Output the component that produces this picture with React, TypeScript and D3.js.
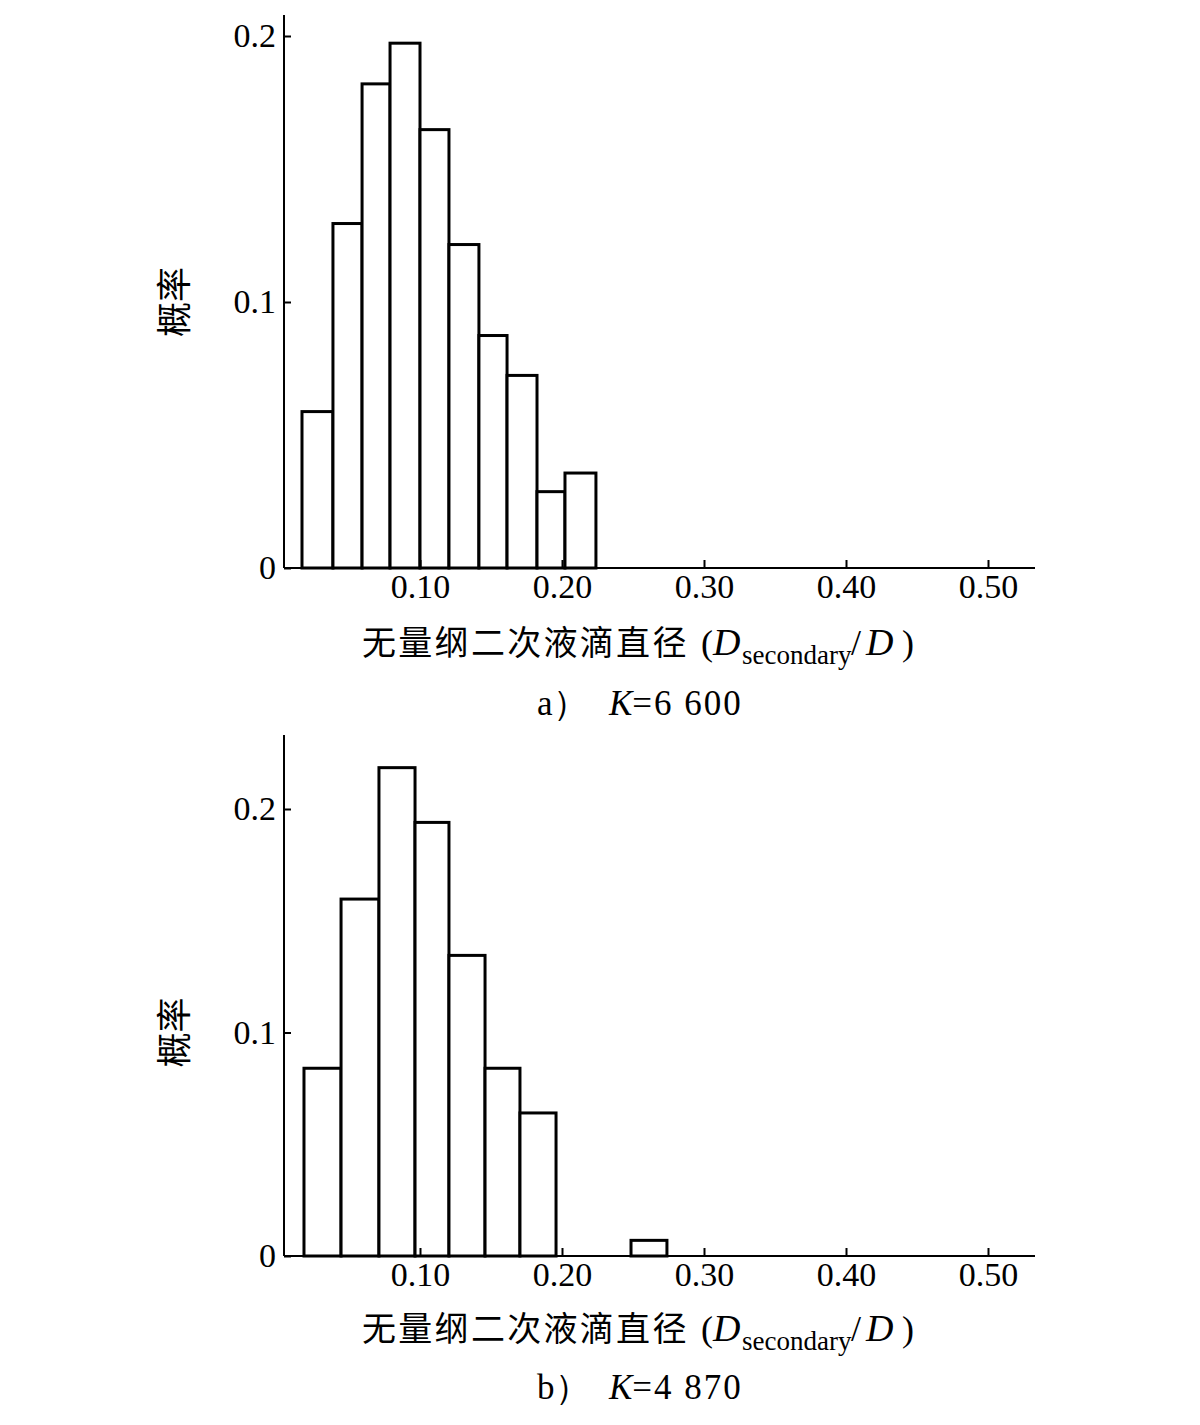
import React, { useEffect, useRef } from 'react';
import * as d3 from 'd3';

// panel a) K=6 600 : bin edges (D_secondary/D) and probability per bin
const edgesA = [0.0169, 0.0387, 0.0592, 0.0789, 0.1, 0.1204, 0.1415, 0.1613, 0.1824, 0.2021, 0.2239];
const probA = [0.0588, 0.1295, 0.182, 0.1973, 0.1648, 0.1216, 0.0874, 0.0724, 0.0287, 0.0357];

// panel b) K=4 870 : lower / upper bin edges and probability
const binLoB = [0.0183, 0.0444, 0.0711, 0.0965, 0.1204, 0.1458, 0.1704, 0.2486];
const binHiB = [0.0444, 0.0711, 0.0965, 0.1204, 0.1458, 0.1704, 0.1958, 0.2739];
const probB = [0.084, 0.1597, 0.2185, 0.194, 0.1345, 0.084, 0.064, 0.007];

const xTicks = [0.1, 0.2, 0.3, 0.4, 0.5];
const yTicks = [0, 0.1, 0.2];
const yLabel = '概率';
const xLabelCn = '无量纲二次液滴直径';
const captions = [
  { tag: 'a）', k: '=6 600' },
  { tag: 'b）', k: '=4 870' },
];

const serif = '"Liberation Serif", "Times New Roman", serif';
const cjk = '"Noto Sans CJK SC", sans-serif';

export default function App() {
  const ref = useRef<SVGSVGElement>(null);

  useEffect(() => {
    const svg = d3.select(ref.current);
    svg.selectAll('*').remove();

    const panels = [
      {
        bars: probA.map((p, i) => ({ lo: edgesA[i], hi: edgesA[i + 1], p })),
        y0: 568, y02: 36, top: 15, titleY: 655, capY: 715, cap: captions[0],
      },
      {
        bars: probB.map((p, i) => ({ lo: binLoB[i], hi: binHiB[i], p })),
        y0: 1256, y02: 809, top: 735, titleY: 1341, capY: 1399, cap: captions[1],
      },
    ];

    const axisLeftX = 284;
    const axisRightX = 1035;

    panels.forEach(pn => {
      const x = d3.scaleLinear().domain([0, 0.5]).range([278, 988]);
      const y = d3.scaleLinear().domain([0, 0.2]).range([pn.y0, pn.y02]);
      const g = svg.append('g');

      // bars
      g.selectAll('rect.bar')
        .data(pn.bars)
        .enter().append('rect')
        .attr('class', 'bar')
        .attr('x', d => x(d.lo))
        .attr('width', d => x(d.hi) - x(d.lo))
        .attr('y', d => y(d.p))
        .attr('height', d => y(0) - y(d.p))
        .attr('fill', 'white')
        .attr('stroke', '#000')
        .attr('stroke-width', 3);

      // x axis (ticks pointing inward)
      const xa = g.append('g')
        .attr('transform', `translate(0,${pn.y0})`)
        .call(d3.axisBottom(x).tickValues(xTicks).tickSizeInner(-8).tickSizeOuter(0)
          .tickPadding(6).tickFormat(d => (d as number).toFixed(2)));
      xa.select('.domain').remove();
      xa.selectAll('line').attr('stroke', '#000').attr('stroke-width', 2);
      xa.selectAll('text').attr('font-family', serif).attr('font-size', 34).attr('fill', '#000');

      // y axis
      const ya = g.append('g')
        .attr('transform', `translate(${axisLeftX},0)`)
        .call(d3.axisLeft(y).tickValues(yTicks).tickSizeInner(-7).tickSizeOuter(0)
          .tickPadding(8).tickFormat(d => (d === 0 ? '0' : (d as number).toFixed(1))));
      ya.select('.domain').remove();
      ya.selectAll('line').attr('stroke', '#000').attr('stroke-width', 2);
      ya.selectAll('text').attr('font-family', serif).attr('font-size', 34).attr('fill', '#000');

      // axis lines
      g.append('line')
        .attr('x1', axisLeftX).attr('x2', axisRightX)
        .attr('y1', pn.y0).attr('y2', pn.y0)
        .attr('stroke', '#000').attr('stroke-width', 2);
      g.append('line')
        .attr('x1', axisLeftX).attr('x2', axisLeftX)
        .attr('y1', pn.top).attr('y2', pn.y0)
        .attr('stroke', '#000').attr('stroke-width', 2);

      // y label
      const midY = y(0.1);
      g.append('text')
        .attr('transform', `translate(187,${midY}) rotate(-90)`)
        .attr('text-anchor', 'middle')
        .attr('font-family', cjk)
        .attr('font-size', 35)
        .attr('fill', '#000')
        .text(yLabel);

      // x title
      const t = g.append('text')
        .attr('x', 362).attr('y', pn.titleY)
        .attr('font-size', 34)
        .attr('fill', '#000');
      t.append('tspan').attr('font-family', cjk).attr('letter-spacing', 2.3).text(xLabelCn);
      t.append('tspan').attr('font-family', serif).attr('x', 701).attr('font-size', 36).text('(');
      t.append('tspan').attr('font-family', serif).attr('x', 713).attr('font-size', 38).attr('font-style', 'italic').text('D');
      t.append('tspan').attr('font-family', serif).attr('x', 742).attr('font-size', 27).attr('dy', 9).text('secondary');
      t.append('tspan').attr('font-family', serif).attr('x', 851).attr('font-size', 36).attr('dy', -9).text('/');
      t.append('tspan').attr('font-family', serif).attr('x', 866).attr('font-size', 38).attr('font-style', 'italic').text('D');
      t.append('tspan').attr('font-family', serif).attr('x', 902).attr('font-size', 36).text(')');

      // caption
      const c = g.append('text')
        .attr('x', 537).attr('y', pn.capY)
        .attr('font-family', serif)
        .attr('font-size', 35)
        .attr('fill', '#000');
      c.append('tspan').text(pn.cap.tag);
      c.append('tspan').attr('x', 609).attr('font-style', 'italic').text('K');
      c.append('tspan').attr('letter-spacing', 2).text(pn.cap.k);
    });
  }, []);

  return (
    <div style={{ position: 'absolute', left: 0, top: 0 }}>
      <svg ref={ref} width={1200} height={1425} style={{ display: 'block', background: '#fff' }} />
    </div>
  );
}
